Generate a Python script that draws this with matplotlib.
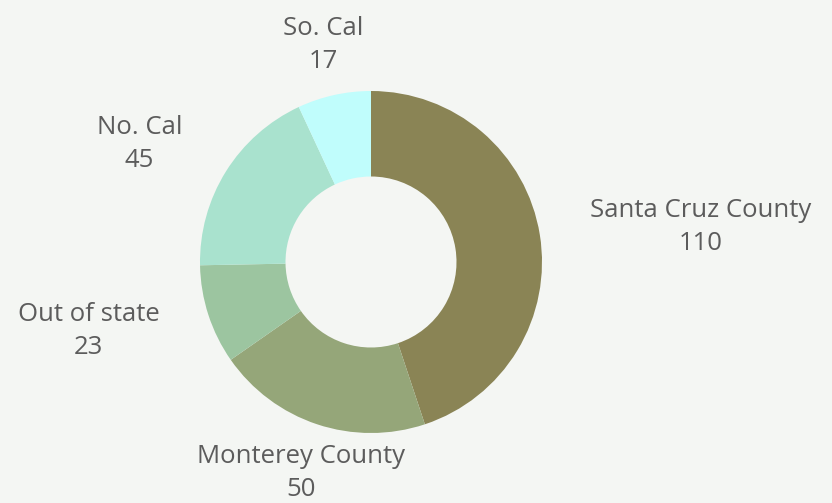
import numpy as np
import matplotlib.pyplot as plt

labels = ["Santa Cruz County", "Monterey County", "Out of state", "No. Cal", "So. Cal"]
values = [110, 50, 23, 45, 17]
colors = ["#8a8455", "#95a679", "#9cc5a0", "#a9e2ce", "#c0fdfc"]

bg = "#f4f6f3"
text_color = "#5c5c5c"

W, H = 832, 503
cx, cy, r_px = 371, 262, 171

fig = plt.figure(figsize=(W / 100, H / 100), dpi=100, facecolor=bg)
ax = fig.add_axes([0, 0, 1, 1])
ax.set_facecolor(bg)

wedges, _ = ax.pie(values, colors=colors, startangle=90, counterclock=False,
                   radius=1, wedgeprops=dict(width=0.5, linewidth=0))

for w, lab, v in zip(wedges, labels, values):
    ang = np.deg2rad((w.theta1 + w.theta2) / 2)
    x, y = 1.3 * np.cos(ang), 1.3 * np.sin(ang)
    c = np.cos(ang)
    ha = "left" if c > 0.35 else ("right" if c < -0.35 else "center")
    ax.text(x, y, f"{lab}\n{v}", ha=ha, va="center", multialignment="center",
            fontsize=18.5, color=text_color, family="Open Sans", linespacing=1.42)

ax.set_xlim(-cx / r_px, (W - cx) / r_px)
ax.set_ylim(-(H - cy) / r_px, cy / r_px)
ax.set_aspect("auto")
ax.axis("off")

fig.savefig("out.png", dpi=100, facecolor=bg)
